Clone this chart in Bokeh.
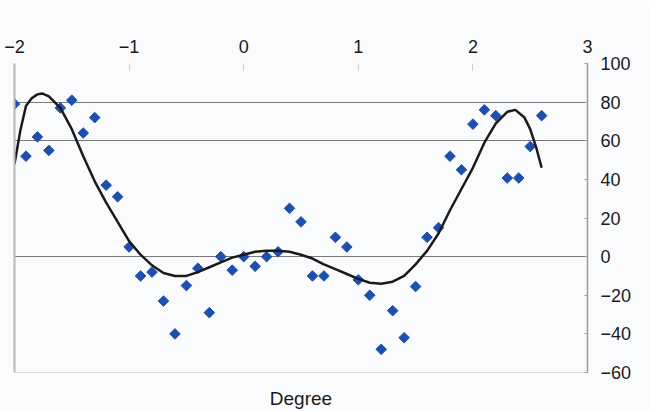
from bokeh.plotting import figure
from bokeh.models import Range1d, LinearAxis, FixedTicker
from bokeh.embed import file_html
from bokeh.resources import INLINE

# scatter data (degree, value)
pts_x = [-2.0, -1.9, -1.8, -1.7, -1.6, -1.5, -1.4, -1.3, -1.2, -1.1,
         -1.0, -0.9, -0.8, -0.7, -0.6, -0.5, -0.4, -0.3, -0.2, -0.1,
         0.0, 0.1, 0.2, 0.3, 0.4, 0.5, 0.6, 0.7, 0.8, 0.9,
         1.0, 1.1, 1.2, 1.3, 1.4, 1.5, 1.6, 1.7, 1.8, 1.9,
         2.0, 2.1, 2.2, 2.3, 2.4, 2.5, 2.6]
pts_y = [79, 52, 62, 55, 77, 81, 64, 72, 37, 31,
         5, -10, -8, -23, -40, -15, -6, -29, 0, -7,
         0, -5, 0, 2.5, 25, 18, -10, -10, 10, 5,
         -12, -20, -48, -28, -42, -15.5, 10, 15, 52, 45,
         68.6, 76, 73, 40.7, 40.7, 57, 73]

# trend curve
curve_x = [-2.0, -1.95, -1.9, -1.85, -1.8, -1.76, -1.7, -1.6, -1.5, -1.4, -1.3, -1.2, -1.1,
           -1.0, -0.9, -0.8, -0.7, -0.6, -0.5, -0.4, -0.3, -0.2, -0.1,
           0.0, 0.1, 0.2, 0.3, 0.4, 0.5, 0.6, 0.7, 0.8, 0.9,
           1.0, 1.1, 1.2, 1.3, 1.4, 1.5, 1.6, 1.7, 1.8, 1.9,
           2.0, 2.1, 2.2, 2.3, 2.37, 2.45, 2.5, 2.55, 2.6]
curve_y = [48, 65, 78, 82, 84, 84.5, 83, 77, 66, 52, 39, 28, 18,
           8, 1, -4.5, -8.5, -10, -10, -8, -5.5, -3, -0.5,
           1, 2.5, 3, 3, 2.5, 1, -1, -4, -6.5, -9,
           -11.5, -13.5, -14, -13, -10, -4, 3, 12, 24, 35,
           46, 59, 69, 75, 76, 72, 66, 57, 46]

x_ticks = [-2, -1, 0, 1, 2, 3]
y_ticks = [-60, -40, -20, 0, 20, 40, 60, 80, 100]
grid_values = [0, 60, 80]

FONT = "Liberation Sans"
BG = "#fafbfd"

p = figure(width=649, height=411, x_range=Range1d(-2, 3), y_range=Range1d(-60, 100),
           output_backend="svg", toolbar_location=None,
           min_border_left=14, min_border_right=62, min_border_top=63, min_border_bottom=38)
p.background_fill_color = BG
p.border_fill_color = BG
p.outline_line_color = None
p.xgrid.visible = False
p.ygrid.ticker = FixedTicker(ticks=grid_values)
p.ygrid.grid_line_color = "#7a7a7a"
p.ygrid.grid_line_width = 1.2

# left axis: plain line
ly = p.yaxis[0]
ly.ticker = FixedTicker(ticks=[])
ly.major_label_text_font_size = "0px"
ly.axis_line_color = "#b8b8b8"
ly.axis_line_width = 2
ly.major_tick_line_color = None
ly.minor_tick_line_color = None

# bottom axis: line + label
bx = p.xaxis[0]
bx.ticker = FixedTicker(ticks=[])
bx.major_label_text_font_size = "0px"
bx.axis_line_color = "#dddddd"
bx.major_tick_line_color = None
bx.minor_tick_line_color = None
bx.axis_label = "Degree"
bx.axis_label_text_font = FONT
bx.axis_label_text_font_style = "normal"
bx.axis_label_text_font_size = "19px"
bx.axis_label_text_color = "#1a1a1a"
bx.axis_label_standoff = 15

def minus(v):
    return str(v).replace("-", "\u2212")

top = LinearAxis(ticker=FixedTicker(ticks=x_ticks),
                 major_label_overrides={v: minus(v) for v in x_ticks})
top.axis_line_color = None
top.major_tick_in = 7
top.major_tick_out = 0
top.major_tick_line_color = "#cccccc"
top.minor_tick_line_color = None
top.major_label_text_font = FONT
top.major_label_text_font_size = "18px"
top.major_label_text_color = "#1a1a1a"
top.major_label_standoff = 11
p.add_layout(top, "above")

right = LinearAxis(ticker=FixedTicker(ticks=y_ticks),
                   major_label_overrides={v: minus(v) for v in y_ticks})
right.axis_line_color = "#9a9a9a"
right.axis_line_width = 1.5
right.major_tick_in = 3
right.major_tick_out = 0
right.major_tick_line_color = "#9a9a9a"
right.minor_tick_line_color = None
right.major_label_text_font = FONT
right.major_label_text_font_size = "18px"
right.major_label_text_color = "#1a1a1a"
right.major_label_standoff = 13
p.add_layout(right, "right")

p.scatter(pts_x, pts_y, marker="square", angle=0.785398, size=7.5,
          fill_color="#1f4fae", line_color="#1f4fae")
p.line(curve_x, curve_y, line_color="#1a1a1a", line_width=2.5)

open("out.html", "w").write(file_html(p, INLINE))
